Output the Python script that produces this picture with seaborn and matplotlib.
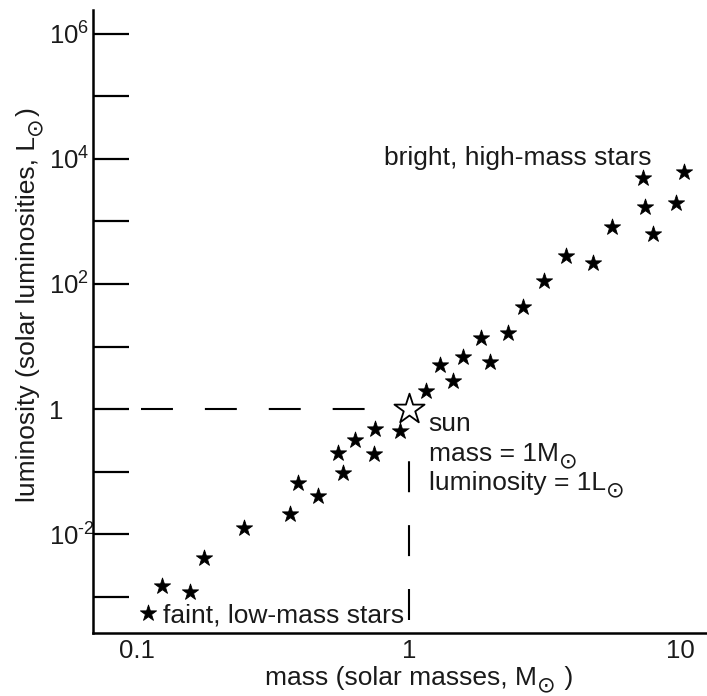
import numpy as np
import pandas as pd
import matplotlib
matplotlib.use("Agg")
import matplotlib.pyplot as plt
import seaborn as sns

# Main-sequence stars: mass (solar masses) and luminosity (solar luminosities)
mass = [0.110, 0.124, 0.157, 0.176, 0.247, 0.365, 0.391, 0.463, 0.548, 0.572,
        0.633, 0.743, 0.750, 0.927, 1.155, 1.30, 1.45, 1.58, 1.85, 1.99,
        2.31, 2.62, 3.14, 3.78, 4.75, 5.58, 7.38, 7.89, 7.25, 9.59, 10.26]
luminosity = [5.5e-4, 1.5e-3, 1.2e-3, 4.2e-3, 1.26e-2, 2.1e-2, 6.6e-2, 4.1e-2, 0.20, 0.095,
              0.32, 0.19, 0.48, 0.45, 1.95, 5.0, 2.8, 6.8, 13.8, 5.6,
              16.6, 43, 112, 282, 219, 813, 1700, 631, 5000, 2000, 6170]

sun_mass = [1.0]
sun_luminosity = [1.0]

y_tick_values = [1e-3, 1e-2, 1e-1, 1e0, 1e1, 1e2, 1e3, 1e4, 1e5, 1e6]
y_tick_labels = ["", r"$\mathregular{10^{\text{-}2}}$", "", "1", "",
                 r"$\mathregular{10^{2}}$", "", r"$\mathregular{10^{4}}$", "",
                 r"$\mathregular{10^{6}}$"]
x_tick_values = [0.1, 1, 10]
x_tick_labels = ["0.1", "1", "10"]

stars = pd.DataFrame({"mass": mass, "luminosity": luminosity})
sun = pd.DataFrame({"mass": sun_mass, "luminosity": sun_luminosity})

sns.set_theme(style="white")
plt.rcParams["font.family"] = ["Liberation Sans", "DejaVu Sans"]
plt.rcParams["mathtext.fontset"] = "custom"
plt.rcParams["mathtext.rm"] = "Liberation Sans"
plt.rcParams["mathtext.it"] = "Liberation Sans:italic"
plt.rcParams["mathtext.bf"] = "Liberation Sans:bold"

FS = 19
TICK_FS = 18.5
SUN_FS = 16
INK = "#1a1a1a"
SUN = "\u2299"

fig = plt.figure(figsize=(7.07, 6.96), dpi=100)
ax = fig.add_axes([0.1315, 0.0905, 0.8685, 0.8951])
ax.set_xscale("log")
ax.set_yscale("log")

# reference lines through the sun
lw = 1.5
ax.plot([0.1035, 0.689], [1.0, 1.0], color="black", lw=lw,
        linestyle=(0, (23.0 / lw, 23.0 / lw)), dash_capstyle="butt")
ax.plot([1.0, 1.0], [4.2e-4, 0.5], color="black", lw=lw,
        linestyle=(0, (22.3 / lw, 23.7 / lw)), dash_capstyle="butt")

sns.scatterplot(data=stars, x="mass", y="luminosity", marker="*", s=150,
                color="black", edgecolor="black", linewidth=0.6, ax=ax, zorder=3)
sns.scatterplot(data=sun, x="mass", y="luminosity", marker="*", s=520,
                facecolor="white", edgecolor="black", linewidth=1.3, ax=ax, zorder=4)
ax.set_xlabel("")
ax.set_ylabel("")

ax.set_xlim(0.0689, 12.5)
ax.set_ylim(10 ** -3.58, 10 ** 6.38)

ax.set_yticks(y_tick_values)
ax.set_yticklabels(y_tick_labels)
ax.set_xticks(x_tick_values)
ax.set_xticklabels(x_tick_labels)
ax.minorticks_off()

ax.tick_params(axis="y", which="major", direction="in", length=26, width=1.6,
               color="black", pad=32, labelsize=TICK_FS, labelcolor=INK, left=True)
ax.tick_params(axis="x", which="major", length=0, pad=4, labelsize=TICK_FS,
               labelcolor=INK, bottom=True)
for lbl in ax.get_yticklabels():
    lbl.set_horizontalalignment("left")

sns.despine(ax=ax)
for side in ("left", "bottom"):
    ax.spines[side].set_linewidth(1.8)
    ax.spines[side].set_color("black")

sun_kw = dict(fontsize=SUN_FS, color=INK, fontfamily="DejaVu Sans",
              textcoords="offset points", annotation_clip=False)


def text_with_sun(x, y, before, after=None, transform=None):
    """Horizontal text followed by a lowered solar symbol."""
    t = ax.text(x, y, before, fontsize=FS, color=INK, va="baseline", ha="left",
                transform=transform if transform is not None else ax.transData)
    s = ax.annotate(SUN, xy=(1, 0), xycoords=t, xytext=(0.5, -3.5),
                    ha="left", va="bottom", **sun_kw)
    if after:
        ax.annotate(after, xy=(1, 0), xycoords=(s, t), xytext=(0.5, 0),
                    textcoords="offset points", ha="left", va="bottom",
                    fontsize=FS, color=INK, annotation_clip=False)
    return t


# axis titles
text_with_sun(0.280, -0.0840, "mass (solar masses, M", " )", transform=ax.transAxes)

ylab = fig.text(0.0566, 0.279, "luminosity (solar luminosities, L", rotation=90,
                ha="right", va="bottom", fontsize=FS, color=INK)
ysun = ax.annotate(SUN, xy=(1, 1), xycoords=ylab, xytext=(3.5, 0.5),
                   rotation=90, ha="right", va="bottom", **sun_kw)
ax.annotate(")", xy=(1, 1), xycoords=(ylab, ysun), xytext=(0, 0.5),
            textcoords="offset points", rotation=90, ha="right", va="bottom",
            fontsize=FS, color=INK, annotation_clip=False)

# annotations
text_kw = dict(fontsize=FS, color=INK, va="baseline", ha="left")
ax.text(0.809, 8017, "bright, high-mass stars", **text_kw)
ax.text(0.1247, 3.9e-4, "faint, low-mass stars", **text_kw)
ax.text(1.184, 0.445, "sun", **text_kw)
text_with_sun(1.184, 0.147, "mass = 1M")
text_with_sun(1.184, 0.0506, "luminosity = 1L")

fig.savefig("out.png", dpi=100)
